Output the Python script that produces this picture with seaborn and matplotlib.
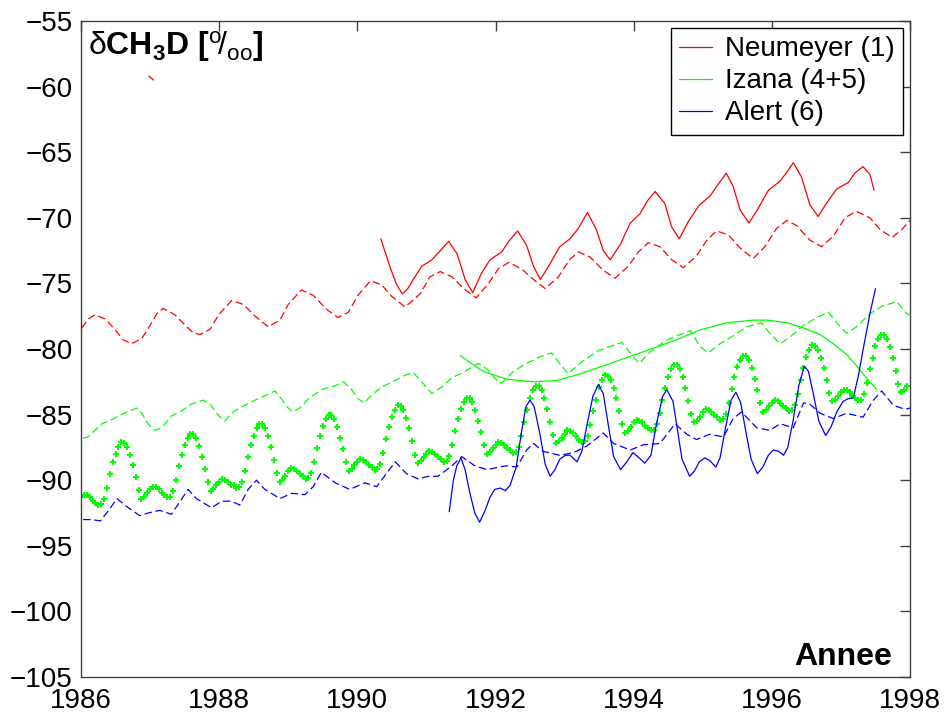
import numpy as np
import matplotlib
matplotlib.use('Agg')
import matplotlib.pyplot as plt
from matplotlib.lines import Line2D
import seaborn as sns

# Neumeyer (1), dashed curve
neu_dash_yr = [1986.01, 1986.11, 1986.20, 1986.35, 1986.49, 1986.61, 1986.73, 1986.88, 1987.00, 1987.10,
               1987.19, 1987.36, 1987.51, 1987.62, 1987.72, 1987.87, 1987.99, 1988.18, 1988.35, 1988.52,
               1988.71, 1988.88, 1989.00, 1989.19, 1989.36, 1989.56, 1989.72, 1989.87, 1990.01, 1990.19,
               1990.35, 1990.50, 1990.69, 1990.91, 1991.05, 1991.20, 1991.37, 1991.54, 1991.72, 1991.90,
               1992.04, 1992.19, 1992.38, 1992.55, 1992.72, 1992.91, 1993.07, 1993.20, 1993.37, 1993.56,
               1993.73, 1993.92, 1994.07, 1994.21, 1994.38, 1994.55, 1994.72, 1994.91, 1995.06, 1995.20,
               1995.37, 1995.54, 1995.73, 1995.90, 1996.07, 1996.22, 1996.36, 1996.55, 1996.72, 1996.89,
               1997.06, 1997.22, 1997.42, 1997.57, 1997.74, 1997.88, 1998.00]
neu_dash_val = [-78.4, -77.7, -77.4, -77.7, -78.5, -79.3, -79.6, -79.2, -78.2, -77.3,
                -76.9, -77.4, -78.2, -78.75, -78.9, -78.5, -77.4, -76.3, -76.6, -77.5,
                -78.3, -77.8, -76.6, -75.5, -75.9, -77.0, -77.6, -77.2, -75.9, -74.8,
                -75.1, -76.0, -76.8, -75.8, -74.5, -74.1, -74.5, -75.4, -76.1, -75.0,
                -73.9, -73.4, -73.9, -74.7, -75.4, -74.5, -73.2, -72.6, -73.0, -74.0,
                -74.6, -73.7, -72.6, -71.9, -72.2, -73.2, -73.8, -72.9, -71.7, -71.0,
                -71.3, -72.3, -73.1, -72.2, -70.8, -70.2, -70.6, -71.7, -72.2, -71.4,
                -70.0, -69.5, -70.0, -70.9, -71.5, -70.9, -70.2]

# Neumeyer (1), solid curve
neu_yr = [1990.34, 1990.47, 1990.56, 1990.65, 1990.73, 1990.81, 1990.93, 1991.08, 1991.20, 1991.32,
          1991.44, 1991.56, 1991.67, 1991.80, 1991.92, 1992.09, 1992.19, 1992.32, 1992.45, 1992.55,
          1992.65, 1992.79, 1992.93, 1993.08, 1993.20, 1993.33, 1993.46, 1993.56, 1993.66, 1993.81,
          1993.95, 1994.09, 1994.20, 1994.31, 1994.45, 1994.55, 1994.66, 1994.79, 1994.94, 1995.11,
          1995.23, 1995.34, 1995.44, 1995.54, 1995.67, 1995.80, 1995.95, 1996.12, 1996.22, 1996.31,
          1996.43, 1996.55, 1996.67, 1996.79, 1996.94, 1997.11, 1997.20, 1997.32, 1997.42, 1997.48]
neu_val = [-71.6, -73.7, -75.0, -75.8, -75.4, -74.7, -73.7, -73.2, -72.5, -71.8,
           -72.7, -74.7, -75.7, -74.2, -73.2, -72.6, -71.8, -71.0, -72.1, -73.7,
           -74.7, -73.5, -72.2, -71.6, -70.8, -69.6, -70.9, -72.5, -73.2, -72.0,
           -70.4, -69.7, -68.7, -68.0, -68.9, -70.7, -71.6, -70.3, -69.1, -68.3,
           -67.4, -66.6, -67.6, -69.4, -70.4, -69.3, -67.9, -67.2, -66.5, -65.8,
           -66.9, -69.0, -69.9, -68.9, -67.8, -67.3, -66.6, -66.1, -66.7, -67.9]

# lone red fragment near 1987
neu_bit_yr = [1986.98, 1987.05]
neu_bit_val = [-59.2, -59.5]

# Izana (4+5), dashed curve
iza_dash_yr = [1986.03, 1986.10, 1986.30, 1986.44, 1986.64, 1986.81, 1986.88, 1986.97, 1987.07, 1987.17,
               1987.31, 1987.46, 1987.60, 1987.77, 1987.87, 1987.96, 1988.08, 1988.20, 1988.33, 1988.52,
               1988.69, 1988.81, 1988.90, 1989.00, 1989.07, 1989.19, 1989.29, 1989.48, 1989.68, 1989.80,
               1989.92, 1990.01, 1990.10, 1990.21, 1990.35, 1990.55, 1990.69, 1990.81, 1990.93, 1991.08,
               1991.22, 1991.37, 1991.56, 1991.75, 1991.87, 1992.02, 1992.09, 1992.26, 1992.45, 1992.64,
               1992.81, 1992.93, 1993.05, 1993.22, 1993.46, 1993.66, 1993.83, 1993.95, 1994.08, 1994.24,
               1994.48, 1994.72, 1994.82, 1994.96, 1995.08, 1995.25, 1995.44, 1995.64, 1995.85, 1995.97,
               1996.12, 1996.26, 1996.46, 1996.65, 1996.82, 1996.94, 1997.08, 1997.23, 1997.42, 1997.61,
               1997.81, 1997.95, 1998.00]
iza_dash_val = [-86.8, -86.7, -85.7, -85.4, -84.85, -84.5, -84.9, -85.7, -86.2, -86.0,
                -85.1, -84.7, -84.2, -83.9, -84.2, -84.9, -85.5, -84.8, -84.4, -83.9,
                -83.5, -83.2, -83.8, -84.5, -84.8, -84.4, -83.8, -83.1, -82.8, -82.5,
                -83.1, -83.8, -84.1, -83.5, -82.9, -82.4, -82.0, -81.8, -82.5, -83.4,
                -82.9, -82.2, -81.7, -81.1, -81.5, -82.4, -82.6, -81.7, -81.1, -80.6,
                -80.3, -81.1, -81.9, -81.1, -80.2, -79.8, -79.5, -80.3, -81.1, -80.2,
                -79.3, -78.8, -78.6, -79.8, -80.3, -79.6, -79.0, -78.3, -78.0, -78.8,
                -79.6, -79.1, -78.2, -77.6, -77.2, -78.0, -78.8, -78.3, -77.3, -76.7,
                -76.4, -77.3, -77.4]

# Izana (4+5), solid smooth curve
iza_yr = [1991.49, 1991.65, 1991.82, 1992.16, 1992.55, 1992.89, 1993.22, 1993.61, 1994.09, 1994.57,
          1994.96, 1995.35, 1995.73, 1995.93, 1996.22, 1996.46, 1996.70, 1996.89, 1997.08, 1997.23,
          1997.37, 1997.52]
iza_val = [-80.5, -81.1, -81.7, -82.3, -82.5, -82.4, -81.9, -81.2, -80.3, -79.4,
           -78.55, -78.0, -77.8, -77.8, -78.0, -78.4, -78.9, -79.6, -80.4, -81.3,
           -82.2, -83.1]

# Izana (4+5), twice-monthly points, one row per year (1986 ... 1997)
iza_dots = [
    [-91.3, -91.1, -91.15, -91.3, -91.55, -91.7, -91.9, -91.85, -91.45, -90.6, -89.55, -88.65,
     -88.0, -87.45, -87.1, -87.15, -87.45, -88.05, -88.85, -89.75, -90.75, -91.4, -91.25, -90.95],
    [-90.7, -90.5, -90.55, -90.7, -90.95, -91.1, -91.3, -91.25, -90.85, -90.0, -88.95, -88.05,
     -87.35, -86.8, -86.45, -86.5, -86.8, -87.4, -88.2, -89.15, -90.15, -90.8, -90.65, -90.35],
    [-90.1, -89.9, -89.95, -90.1, -90.35, -90.4, -90.6, -90.55, -90.15, -89.3, -88.25, -87.35,
     -86.6, -86.05, -85.7, -85.75, -86.05, -86.65, -87.45, -88.45, -89.45, -90.1, -89.95, -89.65],
    [-89.3, -89.1, -89.15, -89.3, -89.55, -89.7, -89.9, -89.85, -89.45, -88.6, -87.55, -86.65,
     -85.9, -85.35, -85.0, -85.05, -85.35, -85.95, -86.75, -87.65, -88.65, -89.3, -89.15, -88.85],
    [-88.6, -88.4, -88.45, -88.6, -88.85, -89.0, -89.2, -89.15, -88.75, -87.9, -86.85, -85.95,
     -85.2, -84.65, -84.3, -84.35, -84.65, -85.25, -86.05, -87.05, -88.05, -88.7, -88.55, -88.25],
    [-88.0, -87.8, -87.85, -88.0, -88.25, -88.4, -88.6, -88.55, -88.15, -87.3, -86.25, -85.35,
     -84.6, -84.05, -83.7, -83.75, -84.05, -84.65, -85.45, -86.35, -87.35, -88.0, -87.85, -87.55],
    [-87.3, -87.1, -87.15, -87.3, -87.55, -87.7, -87.9, -87.85, -87.45, -86.6, -85.55, -84.65,
     -83.7, -83.15, -82.8, -82.85, -83.15, -83.75, -84.55, -85.55, -86.55, -87.2, -87.05, -86.75],
    [-86.45, -86.2, -86.25, -86.4, -86.65, -86.9, -87.1, -87.05, -86.65, -85.8, -84.75, -83.85,
     -82.9, -82.35, -82.0, -82.05, -82.35, -82.95, -83.75, -84.75, -85.75, -86.4, -86.25, -85.95],
    [-85.6, -85.4, -85.45, -85.6, -85.85, -86.0, -86.2, -86.15, -85.75, -84.9, -83.85, -82.95,
     -82.1, -81.55, -81.2, -81.25, -81.55, -82.15, -82.95, -83.95, -84.95, -85.6, -85.45, -85.15],
    [-84.8, -84.6, -84.65, -84.8, -85.05, -85.2, -85.4, -85.35, -84.95, -84.1, -83.05, -82.15,
     -81.4, -80.85, -80.5, -80.55, -80.85, -81.45, -82.25, -83.15, -84.15, -84.8, -84.65, -84.35],
    [-84.1, -83.9, -83.95, -84.1, -84.35, -84.5, -84.7, -84.65, -84.25, -83.4, -82.35, -81.45,
     -80.6, -80.05, -79.7, -79.75, -80.05, -80.65, -81.45, -82.35, -83.35, -84.0, -83.85, -83.55],
    [-83.3, -83.1, -83.15, -83.3, -83.55, -83.7, -83.9, -83.85, -83.45, -82.6, -81.55, -80.65,
     -79.8, -79.25, -78.9, -78.95, -79.25, -79.85, -80.65, -81.65, -82.65, -83.3, -83.15, -82.85],
]

# Alert (6), solid curve
alr_yr = [1991.33, 1991.39, 1991.44, 1991.50, 1991.56, 1991.63, 1991.70, 1991.77, 1991.85, 1991.92,
          1991.99, 1992.07, 1992.14, 1992.21, 1992.30, 1992.38, 1992.44, 1992.50, 1992.56, 1992.64,
          1992.72, 1992.79, 1992.86, 1992.93, 1993.01, 1993.08, 1993.18, 1993.25, 1993.32, 1993.41,
          1993.49, 1993.56, 1993.63, 1993.71, 1993.81, 1993.90, 1993.99, 1994.08, 1994.16, 1994.25,
          1994.33, 1994.42, 1994.48, 1994.57, 1994.63, 1994.70, 1994.81, 1994.88, 1994.95, 1995.03,
          1995.10, 1995.19, 1995.25, 1995.33, 1995.41, 1995.48, 1995.55, 1995.62, 1995.70, 1995.79,
          1995.87, 1995.95, 1996.02, 1996.10, 1996.17, 1996.23, 1996.31, 1996.39, 1996.47, 1996.53,
          1996.60, 1996.68, 1996.78, 1996.86, 1996.94, 1997.03, 1997.10, 1997.18, 1997.25, 1997.33,
          1997.42, 1997.50]
alr_val = [-92.4, -90.0, -88.9, -88.3, -89.2, -91.0, -92.5, -93.2, -92.3, -91.3,
           -90.7, -90.6, -90.8, -90.4, -89.0, -86.2, -84.4, -83.9, -84.4, -86.4,
           -88.8, -89.7, -89.2, -88.4, -88.1, -88.1, -88.6, -87.8, -85.9, -83.6,
           -82.7, -83.4, -85.7, -88.2, -89.2, -88.6, -87.9, -88.3, -88.7, -88.1,
           -85.7, -83.6, -83.1, -84.0, -86.05, -88.4, -89.7, -89.3, -88.6, -88.3,
           -88.5, -89.0, -88.3, -86.0, -83.9, -83.3, -84.1, -86.2, -88.4, -89.5,
           -89.0, -88.1, -87.7, -87.8, -88.1, -87.5, -85.4, -82.8, -81.3, -81.7,
           -83.4, -85.5, -86.6, -85.9, -84.8, -84.0, -83.8, -83.7, -82.1, -79.8,
           -77.3, -75.4]

# Alert (6), dashed curve
alr_dash_yr = [1986.03, 1986.15, 1986.28, 1986.40, 1986.52, 1986.66, 1986.85, 1986.97, 1987.14, 1987.31,
               1987.41, 1987.55, 1987.67, 1987.89, 1988.04, 1988.18, 1988.30, 1988.42, 1988.54, 1988.66,
               1988.88, 1989.05, 1989.24, 1989.36, 1989.48, 1989.68, 1989.89, 1990.11, 1990.28, 1990.42,
               1990.55, 1990.71, 1990.88, 1991.03, 1991.17, 1991.37, 1991.51, 1991.70, 1991.88, 1992.05,
               1992.16, 1992.31, 1992.45, 1992.55, 1992.69, 1992.93, 1993.13, 1993.32, 1993.56, 1993.71,
               1993.95, 1994.14, 1994.38, 1994.60, 1994.77, 1994.91, 1995.10, 1995.30, 1995.44, 1995.56,
               1995.78, 1995.97, 1996.12, 1996.31, 1996.46, 1996.55, 1996.70, 1996.89, 1997.08, 1997.32,
               1997.47, 1997.59, 1997.76, 1997.93, 1998.00]
alr_dash_val = [-93.0, -93.0, -93.1, -92.3, -91.4, -92.0, -92.7, -92.5, -92.3, -92.6,
                -91.8, -90.7, -91.4, -92.1, -91.6, -91.6, -91.9, -90.7, -90.0, -90.7,
                -91.4, -91.0, -91.1, -90.5, -89.4, -90.2, -90.7, -90.2, -90.5, -89.5,
                -88.6, -89.5, -89.9, -89.7, -89.7, -88.9, -88.2, -88.9, -89.2, -89.0,
                -88.9, -89.0, -87.7, -87.2, -87.8, -88.1, -87.9, -87.4, -86.4, -87.2,
                -87.7, -87.3, -87.2, -85.7, -86.5, -86.9, -86.5, -86.7, -85.3, -84.8,
                -86.0, -86.2, -85.7, -86.0, -84.1, -84.2, -84.9, -85.3, -84.9, -85.2,
                -83.9, -83.2, -84.3, -84.6, -84.5]

labels = ['Neumeyer (1)', 'Izana (4+5)', 'Alert (6)']
colors = ['#ff0000', '#00ff00', '#0000ff']
x_ticks = [1986, 1988, 1990, 1992, 1994, 1996, 1998]
y_ticks = list(range(-105, -50, 5))

sns.set_theme(style='white')
plt.rcParams['font.family'] = ['Liberation Sans', 'DejaVu Sans']
plt.rcParams['text.color'] = 'black'
plt.rcParams['mathtext.fontset'] = 'custom'
plt.rcParams['mathtext.rm'] = 'Liberation Sans'
plt.rcParams['mathtext.bf'] = 'Liberation Sans:bold'
plt.rcParams['mathtext.it'] = 'Liberation Sans:italic'

fig = plt.figure(figsize=(9.46, 7.16), dpi=100)
ax = fig.add_axes([81 / 946, 1 - 677 / 716, 829 / 946, 656 / 716])

dash = (0, (6, 3))
lw = 0.9

# dashed curves
sns.lineplot(x=neu_dash_yr, y=neu_dash_val, ax=ax, color=colors[0], lw=lw, linestyle=dash, estimator=None)
sns.lineplot(x=iza_dash_yr, y=iza_dash_val, ax=ax, color=colors[1], lw=lw, linestyle=dash, estimator=None)
sns.lineplot(x=alr_dash_yr, y=alr_dash_val, ax=ax, color=colors[2], lw=lw, linestyle=dash, estimator=None)

# solid curves
sns.lineplot(x=neu_yr, y=neu_val, ax=ax, color=colors[0], lw=lw, estimator=None)
sns.lineplot(x=neu_bit_yr, y=neu_bit_val, ax=ax, color=colors[0], lw=lw, estimator=None)
sns.lineplot(x=iza_yr, y=iza_val, ax=ax, color=colors[1], lw=lw, estimator=None)
sns.lineplot(x=alr_yr, y=alr_val, ax=ax, color=colors[2], lw=lw, estimator=None)

# Izana point series
dot_vals = np.array(iza_dots).ravel()
dot_yrs = 1986 + np.arange(len(dot_vals)) / 24
sns.scatterplot(x=dot_yrs, y=dot_vals, ax=ax, marker='P', s=24, color=colors[1], linewidth=0)

ax.set_xlim(1986, 1998)
ax.set_ylim(-105, -55)
ax.set_xticks(x_ticks)
ax.set_yticks(y_ticks)
ax.set_xlabel('')
ax.set_ylabel('')
ax.tick_params(direction='in', top=True, right=True, length=7, width=1, color='#404040',
               labelsize=20, labelcolor='black', pad=6)
ax.tick_params(axis='x', pad=8)
for sp in ax.spines.values():
    sp.set_color('#404040')
    sp.set_linewidth(1)

ax.text(0.008, 0.988, r'δ$\mathbf{CH_3D\ [}^{\mathrm{o}}\!/_{\mathrm{oo}}\mathbf{]}$',
        transform=ax.transAxes, fontsize=23, color='black', ha='left', va='top')
ax.text(0.978, 0.018, 'Annee', transform=ax.transAxes, fontsize=23, fontweight='bold',
        color='black', ha='right', va='baseline')

handles = [Line2D([], [], color=c, lw=lw) for c in colors]
leg = ax.legend(handles, labels, loc='upper right', fontsize=20, frameon=True, fancybox=False,
                framealpha=1, edgecolor='black', handlelength=1.2, handletextpad=0.45,
                borderpad=0.3, labelspacing=0.22, borderaxespad=0.25)
leg.get_frame().set_linewidth(1.0)
for t in leg.get_texts():
    t.set_color('black')

fig.savefig('out.png', dpi=100)
